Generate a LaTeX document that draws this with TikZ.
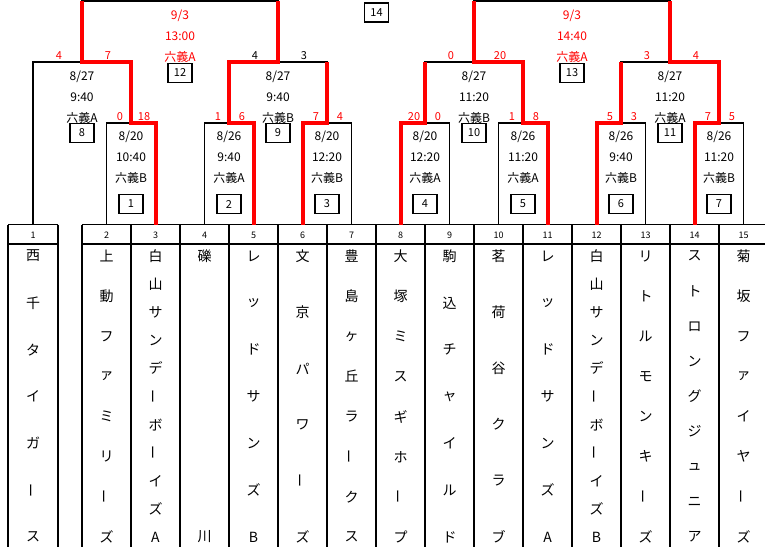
\documentclass[tikz,border=0pt]{standalone}
\usepackage{fontspec}
\usepackage{graphicx}
\setmainfont{Noto Sans CJK JP}
\usetikzlibrary{calc}
\definecolor{winred}{RGB}{255,0,0}
\newcommand\vchoon{\rotatebox[origin=c]{90}{ー}}
\newcommand\matchinfo[8]{%
  \node[info,text=#8] (d#1) at (#2,#3) {#4};
  \node[info,text=#8] (t#1) at (#2,#3+20) {#5};
  \node[info,text=#8] (p#1) at (#2,#3+40.5) {#6};
  \node[mbox] (b#1) at (#2,#7) {#1};
}
\newcommand\teamcol[3]{%
  \foreach \c [count=\k from 0] in {#3} {%
    \node[ch] (n#1-\k) at ($(T#1)+(0,{31.5+\k*281/(#2-1)})$) {\c};}%
}
\begin{document}
\begin{tikzpicture}[x=1pt,y=-1pt,
  br/.style={line width=1.6pt, black},
  win/.style={line width=4pt, winred, line join=miter},
  tbl/.style={line width=1.2pt, black},
  info/.style={font=\fontsize{12}{12}\selectfont, inner sep=0pt, anchor=center},
  mbox/.style={draw, line width=1.8pt, minimum width=24pt, minimum height=19pt, inner sep=0pt, fill=white, font=\fontsize{11}{11}\selectfont},
  score/.style={font=\fontsize{11}{11}\selectfont, inner sep=0pt},
  hdr/.style={font=\fontsize{9}{9}\selectfont, inner sep=0pt},
  ch/.style={font=\fontsize{14}{14}\selectfont, inner sep=0pt}]
\useasboundingbox (0,0) rectangle (765,547);

% ---------- table ----------
\draw[tbl] (8,224.5) -- (58,224.5) (8,244) -- (58,244);
\draw[tbl] (8,224.5) -- (8,547) (58,224.5) -- (58,547);
\draw[tbl] (82,224.5) -- (770,224.5) (82,244) -- (770,244);
\foreach \k in {0,...,14} {\draw[tbl] ({82+49*\k},224.5) -- ({82+49*\k},547);}

% ---------- coordinates ----------
\coordinate (T1) at (33,224.5);
\foreach \i in {2,...,15} {\coordinate (T\i) at ({106.5+(\i-2)*49},224.5);}
\foreach \i in {1,...,7} {\coordinate (M\i) at ({131+(\i-1)*98},123);}
\coordinate (M8) at (82,62);
\coordinate (M9) at (278,62);
\coordinate (M10) at (474,62);
\coordinate (M11) at (670,62);
\coordinate (M12) at (180,1);
\coordinate (M13) at (572,1);

% ---------- header numbers ----------
\foreach \i in {1,...,15} {\node[hdr] (h\i) at ($(T\i)+(0,10.5)$) {\i};}

% ---------- black bracket ----------
\draw[br] (T2) |- (M1) -| (T3);
\draw[br] (T4) |- (M2) -| (T5);
\draw[br] (T6) |- (M3) -| (T7);
\draw[br] (T8) |- (M4) -| (T9);
\draw[br] (T10) |- (M5) -| (T11);
\draw[br] (T12) |- (M6) -| (T13);
\draw[br] (T14) |- (M7) -| (T15);
\draw[br] (T1) |- (M8) -| (M1);
\draw[br] (M2) |- (M9) -| (M3);
\draw[br] (M4) |- (M10) -| (M5);
\draw[br] (M6) |- (M11) -| (M7);
\draw[br] (M8) |- (M12) -| (M9);
\draw[br] (M10) |- (M13) -| (M11);

% ---------- winners (red) ----------
\draw[win] (T3) |- (M1) |- (M8) -- (M8 |- M12);
\draw[win] (T5) |- (M2) |- (M9) -- (M9 |- M12);
\draw[win] (T6) |- (M3) -- (M3 |- M9);
\draw[win] (T8) |- (M4) -- (M4 |- M10);
\draw[win] (T11) |- (M5) |- (M10) -- (M10 |- M13);
\draw[win] (T12) |- (M6) -- (M6 |- M11);
\draw[win] (T14) |- (M7) |- (M11) -- (M11 |- M13);

% ---------- match info ----------
\matchinfo{1}{131}{137}{8/20}{10:40}{六義B}{204}{black}
\matchinfo{2}{229}{137}{8/26}{9:40}{六義A}{204}{black}
\matchinfo{3}{327}{137}{8/20}{12:20}{六義B}{204}{black}
\matchinfo{4}{425}{137}{8/20}{12:20}{六義A}{204}{black}
\matchinfo{5}{523}{137}{8/26}{11:20}{六義A}{204}{black}
\matchinfo{6}{621}{137}{8/26}{9:40}{六義B}{204}{black}
\matchinfo{7}{719}{137}{8/26}{11:20}{六義B}{204}{black}
\matchinfo{8}{82}{77}{8/27}{9:40}{六義A}{133}{black}
\matchinfo{9}{278}{77}{8/27}{9:40}{六義B}{133}{black}
\matchinfo{10}{474}{77}{8/27}{11:20}{六義B}{133}{black}
\matchinfo{11}{670}{77}{8/27}{11:20}{六義A}{133}{black}
\matchinfo{12}{180}{16}{9/3}{13:00}{六義A}{73}{winred}
\matchinfo{13}{572}{16}{9/3}{14:40}{六義A}{73}{winred}
\node[mbox] (b14) at (376.5,12.5) {14};

% ---------- scores ----------
\foreach \nm/\x/\y/\v/\cl in {
  s1a/120/117/0/winred, s1b/144/117/18/winred,
  s2a/218/117/1/winred, s2b/242/117/6/winred,
  s3a/316/117/7/winred, s3b/340/117/4/winred,
  s4a/414/117/20/winred, s4b/438/117/0/winred,
  s5a/512/117/1/winred, s5b/536/117/8/winred,
  s6a/610/117/5/winred, s6b/634/117/3/winred,
  s7a/708/117/7/winred, s7b/732/117/5/winred,
  s8a/59/56/4/winred, s8b/108/56/7/winred,
  s9a/255/56/4/black, s9b/304/56/3/black,
  s10a/451/56/0/winred, s10b/500/56/20/winred,
  s11a/647/56/3/winred, s11b/696/56/4/winred}
  {\node[score,text=\cl] (\nm) at (\x,\y) {\v};}

% ---------- team names ----------
\teamcol{1}{7}{西,千,タ,イ,ガ,\vchoon,ス}
\teamcol{2}{8}{上,動,フ,ァ,ミ,リ,\vchoon,ズ}
\teamcol{3}{11}{白,山,サ,ン,デ,\vchoon,ボ,\vchoon,イ,ズ,A}
\teamcol{4}{2}{礫,川}
\teamcol{5}{7}{レ,ッ,ド,サ,ン,ズ,B}
\teamcol{6}{6}{文,京,パ,ワ,\vchoon,ズ}
\teamcol{7}{8}{豊,島,ヶ,丘,ラ,\vchoon,ク,ス}
\teamcol{8}{8}{大,塚,ミ,ス,ギ,ホ,\vchoon,プ}
\teamcol{9}{7}{駒,込,チ,ャ,イ,ル,ド}
\teamcol{10}{6}{茗,荷,谷,ク,ラ,ブ}
\teamcol{11}{7}{レ,ッ,ド,サ,ン,ズ,A}
\teamcol{12}{11}{白,山,サ,ン,デ,\vchoon,ボ,\vchoon,イ,ズ,B}
\teamcol{13}{8}{リ,ト,ル,モ,ン,キ,\vchoon,ズ}
\teamcol{14}{9}{ス,ト,ロ,ン,グ,ジ,ュ,ニ,ア}
\teamcol{15}{8}{菊,坂,フ,ァ,イ,ヤ,\vchoon,ズ}
\end{tikzpicture}
\end{document}
